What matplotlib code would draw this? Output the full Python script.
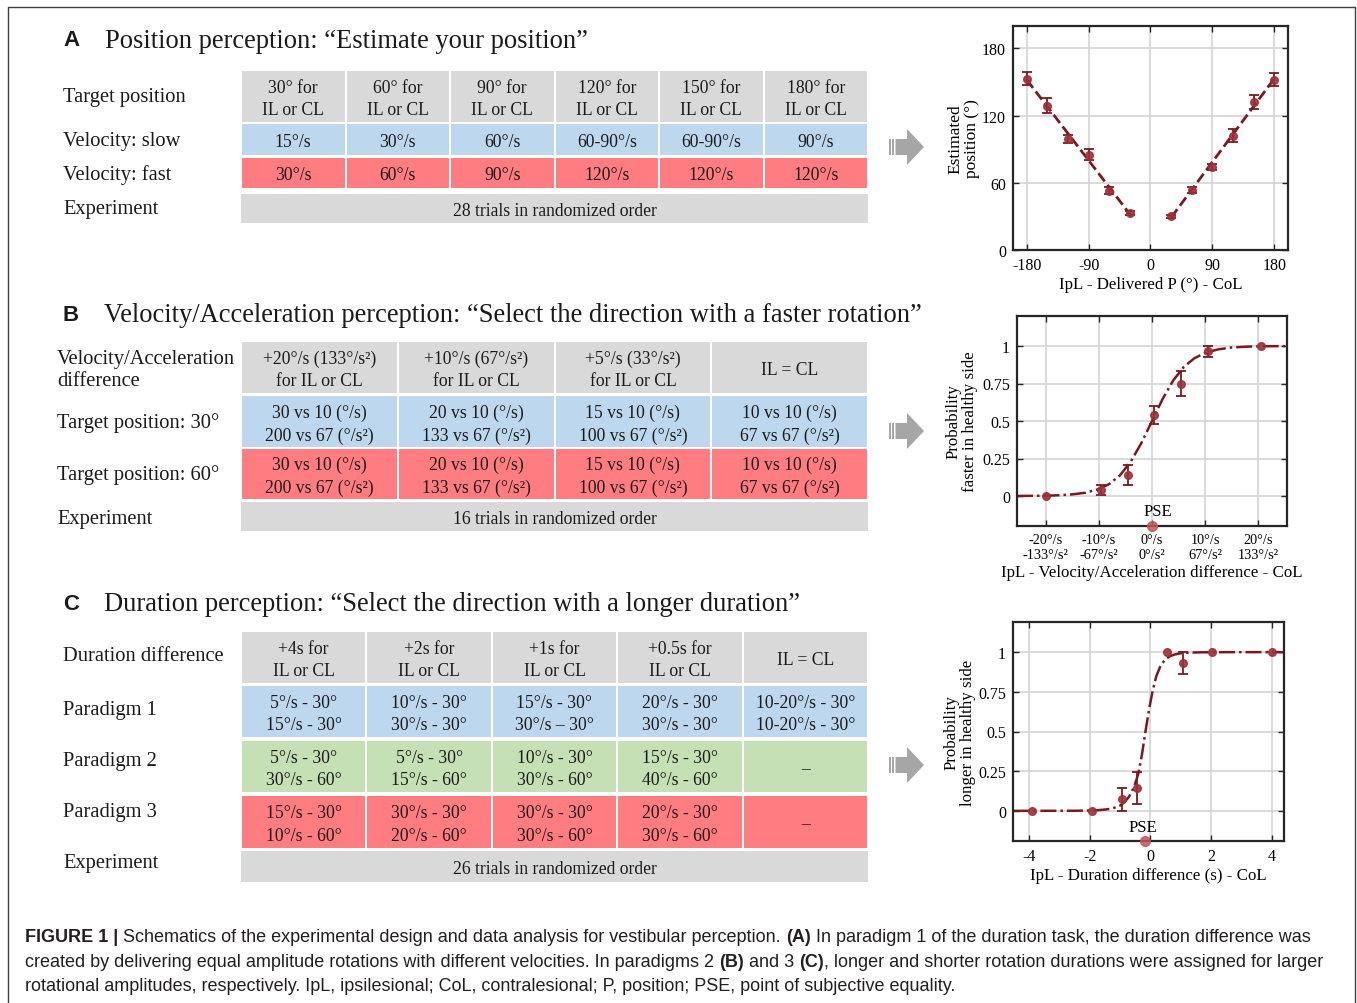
import matplotlib
matplotlib.use('Agg')
import matplotlib.pyplot as plt
from matplotlib.patches import Rectangle, Polygon
import numpy as np

plt.rcParams['font.family'] = ['Liberation Serif', 'DejaVu Serif']
plt.rcParams['font.size'] = 12
plt.rcParams['axes.unicode_minus'] = False

W, H = 1357, 1004

# ---------------- table contents ----------------
labels_a = ['Target position', 'Velocity: slow', 'Velocity: fast', 'Experiment']
pos_header = ['30° for\nIL or CL', '60° for\nIL or CL', '90° for\nIL or CL',
              '120° for\nIL or CL', '150° for\nIL or CL', '180° for\nIL or CL']
vel_slow = ['15°/s', '30°/s', '60°/s', '60-90°/s', '60-90°/s', '90°/s']
vel_fast = ['30°/s', '60°/s', '90°/s', '120°/s', '120°/s', '120°/s']
exp_a = '28 trials in randomized order'

labels_b = ['Velocity/Acceleration\ndifference', 'Target position: 30°',
            'Target position: 60°', 'Experiment']
va_header = ['+20°/s (133°/s²)\nfor IL or CL', '+10°/s (67°/s²)\nfor IL or CL',
             '+5°/s (33°/s²)\nfor IL or CL', 'IL = CL']
va_pos30 = ['30 vs 10 (°/s)\n200 vs 67 (°/s²)', '20 vs 10 (°/s)\n133 vs 67 (°/s²)',
            '15 vs 10 (°/s)\n100 vs 67 (°/s²)', '10 vs 10 (°/s)\n67 vs 67 (°/s²)']
va_pos60 = ['30 vs 10 (°/s)\n200 vs 67 (°/s²)', '20 vs 10 (°/s)\n133 vs 67 (°/s²)',
            '15 vs 10 (°/s)\n100 vs 67 (°/s²)', '10 vs 10 (°/s)\n67 vs 67 (°/s²)']
exp_b = '16 trials in randomized order'

labels_c = ['Duration difference', 'Paradigm 1', 'Paradigm 2', 'Paradigm 3', 'Experiment']
dur_header = ['+4s for\nIL or CL', '+2s for\nIL or CL', '+1s for\nIL or CL',
              '+0.5s for\nIL or CL', 'IL = CL']
par1 = ['5°/s - 30°\n15°/s - 30°', '10°/s - 30°\n30°/s - 30°', '15°/s - 30°\n30°/s – 30°',
        '20°/s - 30°\n30°/s - 30°', '10-20°/s - 30°\n10-20°/s - 30°']
par2 = ['5°/s - 30°\n30°/s - 60°', '5°/s - 30°\n15°/s - 60°', '10°/s - 30°\n30°/s - 60°',
        '15°/s - 30°\n40°/s - 60°', '–']
par3 = ['15°/s - 30°\n10°/s - 60°', '30°/s - 30°\n20°/s - 60°', '30°/s - 30°\n30°/s - 60°',
        '20°/s - 30°\n30°/s - 60°', '–']
exp_c = '26 trials in randomized order'

titles = ['Position perception: \u201cEstimate your position\u201d',
          'Velocity/Acceleration perception: \u201cSelect the direction with a faster rotation\u201d',
          'Duration perception: \u201cSelect the direction with a longer duration\u201d']

# ---------------- plot data ----------------
pos_delivered = [-180, -150, -120, -90, -60, -30, 30, 60, 90, 120, 150, 180]
pos_estimated = [153, 129, 99, 85, 53, 33, 30, 53.5, 74, 102, 132, 152]
pos_err = [6, 7, 3.5, 5, 3, 1.5, 1, 2.5, 3, 6, 6, 6]
fit_left_x, fit_left_y = [-180, -30], [152, 32]
fit_right_x, fit_right_y = [30, 180], [29, 153]

vel_x = [-19.9, -9.6, -4.6, 0.4, 5.5, 10.5, 20.6]
vel_p = [0, 0.04, 0.14, 0.54, 0.75, 0.965, 1.0]
vel_err = [0, 0.033, 0.067, 0.063, 0.085, 0.036, 0]
vel_fit_x = [-25.4, -20, -17.5, -15, -12.5, -10, -8, -6, -4, -2, 0, 2, 4, 6, 8, 10,
             12.5, 15, 17.5, 20, 25.4]
vel_fit_y = [0.0005, 0.002, 0.005, 0.011, 0.022, 0.046, 0.081, 0.139, 0.229, 0.353, 0.5,
             0.647, 0.771, 0.861, 0.919, 0.954, 0.978, 0.99, 0.995, 0.998, 0.9995]
vel_pse = 0.0

dur_x = [-3.89, -1.91, -0.92, -0.43, 0.56, 1.07, 2.04, 4.01]
dur_p = [0, 0, 0.072, 0.143, 1.0, 0.93, 1.0, 1.0]
dur_err = [0, 0, 0.07, 0.1, 0, 0.07, 0, 0]
dur_fit_x = [-4.5, -2.5, -1.8, -1.5, -1.25, -1.0, -0.85, -0.7, -0.55, -0.4, -0.28, -0.16,
             -0.04, 0.08, 0.2, 0.35, 0.5, 0.65, 0.8, 1.0, 1.3, 1.7, 2.5, 4.5]
dur_fit_y = [0, 0.0005, 0.003, 0.008, 0.015, 0.033, 0.055, 0.09, 0.145, 0.23, 0.35, 0.5,
             0.64, 0.76, 0.85, 0.92, 0.955, 0.975, 0.985, 0.993, 0.997, 0.999, 1.0, 1.0]
dur_pse = -0.16

GREY, BLUE, RED, GREEN = '#d9d9d9', '#bdd7ee', '#ff7c80', '#c5e0b4'
LINE = '#7a1a20'
DOT = '#9e3038'

fig = plt.figure(figsize=(W / 100, H / 100), dpi=100)
ax0 = fig.add_axes([0, 0, 1, 1])
ax0.set_xlim(0, W)
ax0.set_ylim(H, 0)
ax0.axis('off')

# frame
ax0.plot([8, 8, 1355, 1355], [1004, 8, 8, 1004], color='#404040', lw=1)


def draw_table(x0, x1, rows, ncols):
    cw = (x1 - x0) / ncols
    for top, bot, col, cells in rows:
        if isinstance(cells, str):
            ax0.add_patch(Rectangle((x0, top), x1 - x0, bot - top, color=col, lw=0))
            ax0.text((x0 + x1) / 2, (top + bot) / 2 + 2, cells, ha='center', va='center',
                     fontsize=12.7, color='#1a1a1a')
            continue
        for i, s in enumerate(cells):
            ax0.add_patch(Rectangle((x0 + i * cw + 1, top), cw - 2, bot - top, color=col, lw=0))
            ax0.text(x0 + (i + 0.5) * cw, (top + bot) / 2 + 2, s, ha='center', va='center',
                     fontsize=12.7, color='#1a1a1a', linespacing=1.42)


def row_labels(x, ys, labels):
    for y, s in zip(ys, labels):
        ax0.text(x, y + 2.5, s, ha='left', va='center', fontsize=14.8, color='#1a1a1a',
                 linespacing=1.2)


def arrow(cy):
    ax0.add_patch(Rectangle((889, cy - 8), 1.6, 16, color='#a6a6a6', lw=0))
    ax0.add_patch(Rectangle((892.4, cy - 8), 1.6, 16, color='#a6a6a6', lw=0))
    ax0.add_patch(Polygon([(895.5, cy - 8), (907, cy - 8), (907, cy - 18), (924, cy),
                           (907, cy + 18), (907, cy + 8), (895.5, cy + 8)],
                          closed=True, color='#a6a6a6', lw=0))


# titles
for letter, ty, tx, s in [('A', 38, 105, titles[0]), ('B', 313, 104, titles[1]),
                          ('C', 602, 104, titles[2])]:
    ax0.text(63, ty + 3, letter, fontsize=16, fontweight='bold', family='Liberation Sans',
             ha='left', va='center', color='#1a1a1a')
    ax0.text(tx, ty + 3, s, fontsize=19.1, ha='left', va='center', color='#1a1a1a')

# table A
draw_table(241, 868, [(72, 123, GREY, pos_header), (125, 156, BLUE, vel_slow),
                      (159, 189, RED, vel_fast), (195, 224, GREY, exp_a)], 6)
row_labels(63, [95, 139, 173, 207], labels_a)

# table B
draw_table(241, 868, [(343, 394, GREY, va_header), (397, 448, BLUE, va_pos30),
                      (450, 500, RED, va_pos60), (503, 532, GREY, exp_b)], 4)
row_labels(57, [368, 421, 473, 517], labels_b)

# table C
draw_table(241, 868, [(633, 684, GREY, dur_header), (687, 738, BLUE, par1),
                      (742, 793, GREEN, par2), (797, 849, RED, par3),
                      (852, 883, GREY, exp_c)], 5)
row_labels(63, [654, 708, 759, 810, 861], labels_c)

arrow(148)
arrow(432)
arrow(766)


def make_ax(l, r, t, b):
    ax = fig.add_axes([l / W, 1 - b / H, (r - l) / W, (b - t) / H])
    for sp in ax.spines.values():
        sp.set_linewidth(1.6)
        sp.set_color('#262626')
    ax.tick_params(direction='in', top=True, right=True, length=4, width=1,
                   labelsize=11.5, pad=5, color='#262626')
    ax.grid(True, color='#d4d4d4', lw=1.2)
    ax.set_axisbelow(True)
    return ax


def points(ax, x, y, e):
    x, y, e = np.array(x), np.array(y), np.array(e)
    m = e > 0
    ax.errorbar(x[m], y[m], yerr=e[m], fmt='none', ecolor=LINE, elinewidth=1.3,
                capsize=3.5, capthick=1.3, zorder=3)
    ax.plot(x, y, 'o', ms=5.5, color=DOT, alpha=0.9, zorder=4)


# panel A plot
axA = make_ax(1013, 1288, 27, 251)
axA.plot(fit_left_x, fit_left_y, '--', color=LINE, lw=2)
axA.plot(fit_right_x, fit_right_y, '--', color=LINE, lw=2)
points(axA, pos_delivered, pos_estimated, pos_err)
axA.set_xlim(-200, 200)
axA.set_ylim(0, 200)
axA.set_xticks([-180, -90, 0, 90, 180])
axA.set_yticks([0, 60, 120, 180])
axA.set_xlabel('IpL - Delivered P (°) - CoL', fontsize=12.2, labelpad=2)
axA.set_ylabel('Estimated\nposition (°)', fontsize=12.5, va='center', linespacing=1.05)
axA.yaxis.set_label_coords(-0.18, 0.5)

# panel B plot
axB = make_ax(1017, 1287, 317, 527)
axB.plot(vel_fit_x, vel_fit_y, '-.', color=LINE, lw=1.8)
points(axB, vel_x, vel_p, vel_err)
axB.plot([vel_pse], [-0.2], 'o', ms=7, color='#c0555a', alpha=0.85, clip_on=False, zorder=5)
axB.text(1.1, -0.1, 'PSE', ha='center', va='center', fontsize=12)
axB.set_xlim(-25.4, 25.4)
axB.set_ylim(-0.2, 1.2)
axB.set_xticks([-20, -10, 0, 10, 20])
axB.set_xticklabels(['-20°/s\n-133°/s²', '-10°/s\n-67°/s²', '0°/s\n0°/s²',
                     '10°/s\n67°/s²', '20°/s\n133°/s²'], fontsize=10.3)
axB.set_yticks([0, 0.25, 0.5, 0.75, 1])
axB.set_yticklabels(['0', '0.25', '0.5', '0.75', '1'])
axB.set_xlabel('IpL - Velocity/Acceleration difference - CoL', fontsize=12.2, labelpad=2)
axB.set_ylabel('Probability\nfaster in healthy side', fontsize=12.2, va='center',
               linespacing=1.05)
axB.yaxis.set_label_coords(-0.205, 0.5)

# panel C plot
axC = make_ax(1013, 1284, 623, 842)
axC.plot(dur_fit_x, dur_fit_y, '-.', color=LINE, lw=1.8)
points(axC, dur_x, dur_p, dur_err)
axC.plot([dur_pse], [-0.19], 'o', ms=7, color='#c0555a', alpha=0.85, clip_on=False, zorder=5)
axC.text(-0.25, -0.1, 'PSE', ha='center', va='center', fontsize=12)
axC.set_xlim(-4.53, 4.41)
axC.set_ylim(-0.19, 1.19)
axC.set_xticks([-4, -2, 0, 2, 4])
axC.set_yticks([0, 0.25, 0.5, 0.75, 1])
axC.set_yticklabels(['0', '0.25', '0.5', '0.75', '1'])
axC.set_xlabel('IpL - Duration difference (s) - CoL', fontsize=12.2, labelpad=2)
axC.set_ylabel('Probability\nlonger in healthy side', fontsize=12.2, va='center',
               linespacing=1.05)
axC.yaxis.set_label_coords(-0.195, 0.5)

# caption with bold pieces
cap_lines = [
    (938, [('FIGURE 1 |', True, False),
           ('Schematics of the experimental design and data analysis for vestibular perception.', False, True),
           ('(A)', True, True),
           ('In paradigm 1 of the duration task, the duration difference was', False, True)]),
    (963, [('created by delivering equal amplitude rotations with different velocities. In paradigms 2', False, False),
           ('(B)', True, True), ('and 3', False, True), ('(C)', True, True),
           (', longer and shorter rotation durations were assigned for larger', False, False)]),
    (987, [('rotational amplitudes, respectively. IpL, ipsilesional; CoL, contralesional; P, position; PSE, point of subjective equality.', False, False)]),
]
renderer = fig.canvas.get_renderer()
cap_kw = dict(family='Liberation Sans', fontsize=13.0, color='#231f20', va='center', ha='left')


def width_of(s, bold):
    t = ax0.text(0, 0, s, fontweight='bold' if bold else 'normal', **cap_kw)
    w = t.get_window_extent(renderer).width
    t.remove()
    return w


space = width_of('a a', False) - width_of('aa', False)
for y, parts in cap_lines:
    x = 25
    for s, bold, sp in parts:
        if sp:
            x += space
        t = ax0.text(x, y, s, fontweight='bold' if bold else 'normal', **cap_kw)
        x += t.get_window_extent(renderer).width

fig.savefig('out.png', dpi=100)
